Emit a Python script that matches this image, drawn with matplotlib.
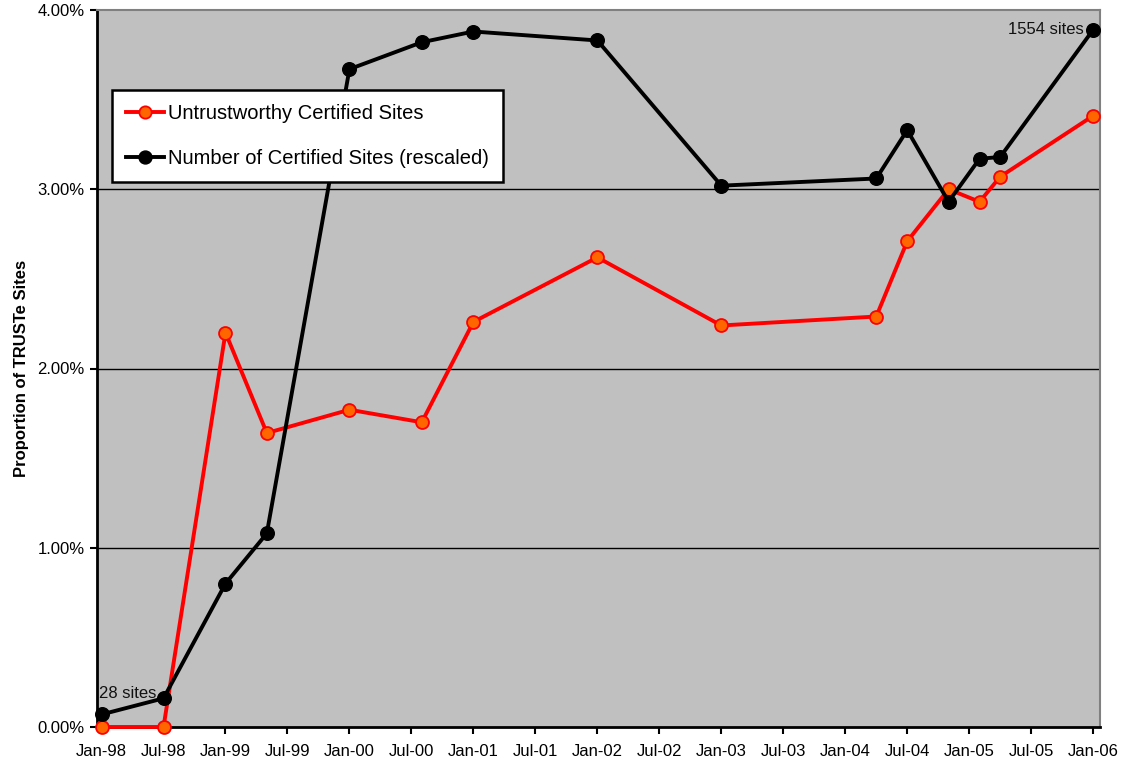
import matplotlib
matplotlib.use("Agg")
import matplotlib.pyplot as plt
from matplotlib.ticker import FuncFormatter, FixedLocator

plt.rcParams['font.family'] = ['Liberation Sans', 'DejaVu Sans']

# Survey dates (year, month)
dates = [(1998, 1), (1998, 7), (1999, 1), (1999, 5), (2000, 1), (2000, 8),
         (2001, 1), (2002, 1), (2003, 1), (2004, 4), (2004, 7), (2004, 11),
         (2005, 2), (2005, 4), (2006, 1)]
# Proportion of untrustworthy certified sites (%)
untrustworthy = [0.00, 0.00, 2.20, 1.64, 1.77, 1.70, 2.26, 2.62, 2.24, 2.29,
                 2.71, 3.00, 2.93, 3.07, 3.41]
# Number of certified sites, rescaled to the % axis
certified_rescaled = [0.07, 0.16, 0.80, 1.08, 3.67, 3.82, 3.88, 3.83, 3.02,
                      3.06, 3.33, 2.93, 3.17, 3.18, 3.89]
tick_labels = ['Jan-98', 'Jul-98', 'Jan-99', 'Jul-99', 'Jan-00', 'Jul-00',
               'Jan-01', 'Jul-01', 'Jan-02', 'Jul-02', 'Jan-03', 'Jul-03',
               'Jan-04', 'Jul-04', 'Jan-05', 'Jul-05', 'Jan-06']
first_label = "28 sites"
last_label = "1554 sites"

x = [(y - 1998) * 12 + (m - 1) for y, m in dates]

fig = plt.figure(figsize=(11.24, 7.63), dpi=100)
ax = fig.add_axes([97 / 1124, 36 / 763, 1003 / 1124, 717 / 763])
ax.set_facecolor('#C0C0C0')

for yv in [1, 2, 3]:
    ax.axhline(yv, color='black', lw=1.0, zorder=1)

ax.plot(x, untrustworthy, color='#FF0000', lw=2.8, marker='o', ms=9.3,
        mfc='#FF6600', mec='#FF0000', mew=1.3, zorder=3,
        label='Untrustworthy Certified Sites', clip_on=False)
ax.plot(x, certified_rescaled, color='black', lw=2.8, marker='o', ms=9.8,
        mfc='black', mec='black', zorder=4,
        label='Number of Certified Sites (rescaled)', clip_on=False)

ax.annotate(first_label, (x[0], certified_rescaled[0]), xytext=(-2, 10),
            textcoords='offset points', fontsize=12, ha='left', va='bottom',
            color='#111111')
ax.annotate(last_label, (x[-1], certified_rescaled[-1]), xytext=(-7, 0.5),
            textcoords='offset points', fontsize=12, ha='right', va='center',
            color='#111111')

ax.set_xlim(-0.44, 96.66)
ax.set_ylim(0, 4)
ax.xaxis.set_major_locator(FixedLocator([6 * i for i in range(len(tick_labels))]))
ax.set_xticklabels(tick_labels, fontsize=12)
ax.set_yticks([0, 1, 2, 3, 4])
ax.yaxis.set_major_formatter(FuncFormatter(lambda v, p: f"{v:.2f}%"))
ax.tick_params(axis='y', labelsize=12, length=5, width=1.5, direction='out', pad=4)
ax.tick_params(axis='x', length=5, width=1.5, direction='out', pad=7)

for s in ['left', 'bottom']:
    ax.spines[s].set_color('black')
    ax.spines[s].set_linewidth(2)
for s in ['top', 'right']:
    ax.spines[s].set_color('#808080')
    ax.spines[s].set_linewidth(1.5)

ax.set_ylabel('Proportion of TRUSTe Sites', fontsize=12, fontweight='bold',
              labelpad=6)

leg = ax.legend(loc='upper left', bbox_to_anchor=(15 / 1003, 1 - 80 / 717),
                fontsize=14.5, frameon=True, fancybox=False, framealpha=1,
                edgecolor='black', borderpad=0.7, labelspacing=1.3,
                handlelength=1.9, handletextpad=0.2, borderaxespad=0,
                markerscale=0.95)
leg.get_frame().set_linewidth(1.8)
leg.set_zorder(10)

fig.savefig('out.png', dpi=100, facecolor='white')
